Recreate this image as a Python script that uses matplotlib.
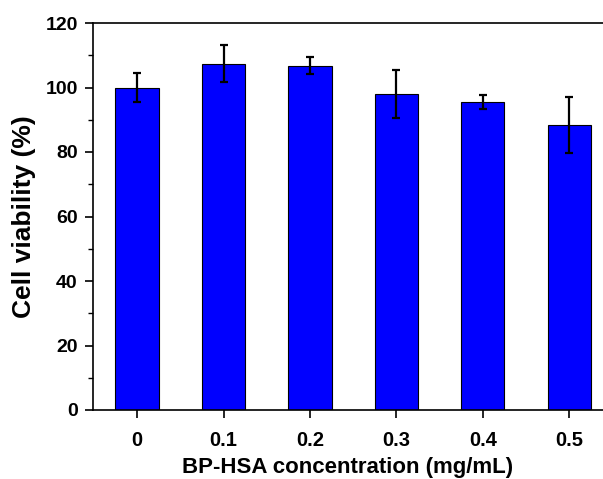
import matplotlib
matplotlib.use("Agg")
import matplotlib.pyplot as plt
from matplotlib.ticker import MultipleLocator

categories = ["0", "0.1", "0.2", "0.3", "0.4", "0.5"]
viability = [100.0, 107.4, 106.8, 98.0, 95.5, 88.3]
errors = [4.5, 5.8, 2.6, 7.5, 2.3, 8.7]

plt.rcParams['font.family'] = ['Liberation Sans', 'DejaVu Sans']
plt.rcParams['font.weight'] = 'bold'

fig = plt.figure(figsize=(6.03, 4.79), dpi=100)
ax = fig.add_axes([93/603, 69/479, 1 - 93/603, (410-23)/479])

x = list(range(len(categories)))
ax.bar(x, viability, width=0.5, color='#0000FF', edgecolor='black', linewidth=0.8,
       yerr=errors, error_kw=dict(ecolor='black', elinewidth=1.6, capsize=3, capthick=1.6), zorder=2)

ax.set_xlim(-0.51, 5.39)
ax.set_ylim(0, 120)
ax.set_xticks(x)
ax.set_xticklabels(categories)
ax.yaxis.set_major_locator(MultipleLocator(20))
ax.yaxis.set_minor_locator(MultipleLocator(10))
ax.spines['right'].set_visible(False)
for s in ['left', 'bottom', 'top']:
    ax.spines[s].set_linewidth(1.2)
ax.tick_params(axis='both', which='major', direction='out', length=6, width=1.2, labelsize=14)
ax.tick_params(axis='x', labelsize=14.5)
ax.tick_params(axis='y', which='minor', direction='out', length=3.5, width=1.0)
ax.tick_params(axis='x', pad=9)
ax.tick_params(axis='y', pad=5)
ax.set_xlabel('BP-HSA concentration (mg/mL)', fontsize=16, fontweight='bold', labelpad=5)
ax.set_ylabel('Cell viability (%)', fontsize=19, fontweight='bold', labelpad=7)

fig.savefig('out.png', dpi=100)
